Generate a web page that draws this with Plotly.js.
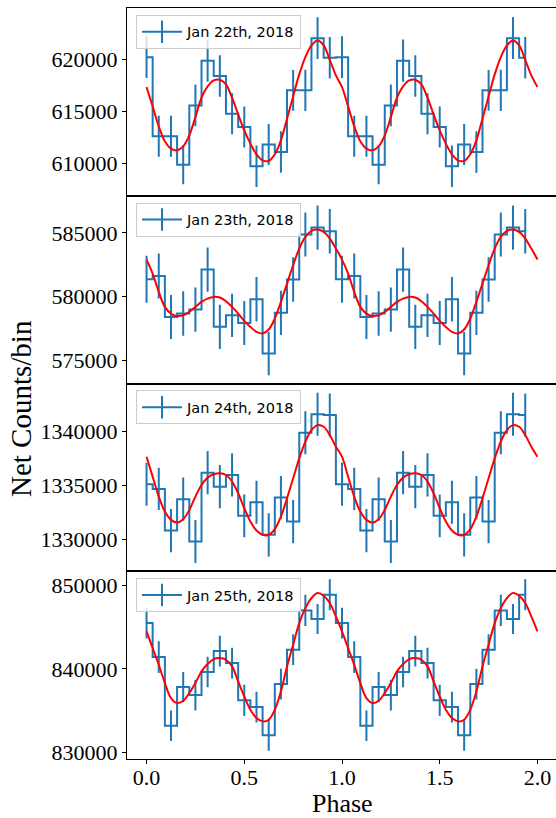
<!DOCTYPE html>
<html>
<head>
<meta charset="utf-8">
<script src="https://cdn.plot.ly/plotly-3.0.1.min.js"></script>
<style>
  html, body { margin: 0; padding: 0; overflow: hidden; background: #fff; }
  #chart { width: 558px; height: 818px; }
</style>
</head>
<body>
<div id="chart"></div>
<script>
// ---------- data ----------
// bin centres in phase (two folded cycles, 16 bins per cycle)
const binPhase = [0, 0.0625, 0.125, 0.1875, 0.25, 0.3125, 0.375, 0.4375, 0.5, 0.5625, 0.625, 0.6875, 0.75, 0.8125, 0.875, 0.9375,
                  1, 1.0625, 1.125, 1.1875, 1.25, 1.3125, 1.375, 1.4375, 1.5, 1.5625, 1.625, 1.6875, 1.75, 1.8125, 1.875, 1.9375];
// phase grid of the fitted curve
const fitPhase = [0, 0.03125, 0.0625, 0.09375, 0.125, 0.15625, 0.1875, 0.21875, 0.25, 0.28125, 0.3125, 0.34375, 0.375, 0.40625, 0.4375, 0.46875,
                  0.5, 0.53125, 0.5625, 0.59375, 0.625, 0.65625, 0.6875, 0.71875, 0.75, 0.78125, 0.8125, 0.84375, 0.875, 0.90625, 0.9375, 0.96875,
                  1, 1.03125, 1.0625, 1.09375, 1.125, 1.15625, 1.1875, 1.21875, 1.25, 1.28125, 1.3125, 1.34375, 1.375, 1.40625, 1.4375, 1.46875,
                  1.5, 1.53125, 1.5625, 1.59375, 1.625, 1.65625, 1.6875, 1.71875, 1.75, 1.78125, 1.8125, 1.84375, 1.875, 1.90625, 1.9375, 1.96875, 2];

const labels = ["Jan 22th, 2018", "Jan 23th, 2018", "Jan 24th, 2018", "Jan 25th, 2018"];

// net counts per bin, one cycle (16 bins)
const counts22 = [620190, 612610, 612610, 609900, 615570, 619850, 618380, 614780, 613500, 609740, 611820, 611110, 617010, 617010, 622010, 620130];
const counts23 = [581360, 581620, 578400, 578670, 578980, 582120, 577620, 578530, 577930, 579790, 575520, 578720, 581340, 584870, 585420, 585130];
const counts24 = [1335110, 1334680, 1330800, 1333720, 1329780, 1336190, 1334890, 1335980, 1332170, 1333440, 1330400, 1333870, 1331640, 1339910, 1341640, 1341550];
const counts25 = [845490, 841420, 833190, 837820, 836870, 839620, 842140, 840700, 836230, 835430, 832040, 838180, 842300, 847010, 845970, 848880];

// 1-sigma errors per bin
const err22 = [1990, 1960, 1960, 1880, 1990, 2020, 1990, 1960, 1960, 1990, 1960, 1990, 1950, 1980, 1990, 1990];
const err23 = [1850, 1770, 1730, 1750, 1740, 1740, 1730, 1700, 1730, 1740, 1700, 1740, 1740, 1730, 1740, 1740];
const err24 = [2010, 1970, 2010, 2010, 2010, 2010, 2010, 2010, 2000, 2010, 2010, 2010, 2010, 2010, 2000, 2010];
const err25 = [1840, 1900, 1840, 1820, 1840, 1820, 1840, 1840, 1860, 1840, 1860, 1840, 1840, 1860, 1800, 1860];

// fitted model, one cycle sampled every 1/32 in phase (33 values, first == last)
const fit22 = [617326, 615478, 613566, 612132, 611431, 611272, 611654, 612706, 614458, 616307, 617390, 617964, 618028, 617581, 616307, 614713,
               613184, 611909, 610889, 610316, 610252, 610889, 612228, 614299, 616434, 618537, 620194, 621310, 621788, 621310, 619940, 618442, 617326];
const fit23 = [582906, 581806, 580367, 579189, 578665, 578482, 578534, 578796, 579189, 579581, 579843, 579974, 579922, 579634, 579189, 578665,
               578089, 577618, 577226, 577095, 577409, 578273, 579581, 581021, 582461, 583770, 584686, 585157, 585262, 585079, 584555, 583770, 582906];
const fit24 = [1337678, 1335820, 1333963, 1332570, 1331796, 1331548, 1331858, 1332724, 1333963, 1335046, 1335728, 1336037, 1336130, 1335975, 1335356, 1334272,
               1332879, 1331641, 1330805, 1330402, 1330402, 1330929, 1332105, 1333808, 1335666, 1337523, 1339071, 1340155, 1340619, 1340464, 1339690, 1338607, 1337678];
const fit25 = [844491, 842495, 840499, 838303, 836507, 835908, 836188, 837106, 838303, 839701, 840579, 841178, 841297, 841098, 840299, 838503,
               836707, 835110, 834112, 833713, 833912, 835110, 837305, 840299, 842894, 845489, 847285, 848483, 849082, 848763, 847884, 846287, 844491];

// y tick values per panel
const yTicks = [
  [610000, 615000, 620000],
  [575000, 580000, 585000],
  [1330000, 1335000, 1340000],
  [830000, 840000, 850000]
];
const xTicks = [0, 0.5, 1.0, 1.5, 2.0];
const xTickText = ["0.0", "0.5", "1.0", "1.5", "2.0"];

// ---------- build the figure ----------
const counts = [counts22, counts23, counts24, counts25];
const errs = [err22, err23, err24, err25];
const fits = [fit22, fit23, fit24, fit25];
const yRanges = [[606922, 624895], [573171, 587919], [1327013, 1344493], [829206, 851697]];
const domains = [[0.75, 1], [0.5, 0.75], [0.25, 0.5], [0, 0.25]];
const legendTop = [0.991, 0.741, 0.491, 0.241];

const BLUE = '#1f77b4';
const traces = [];
const layout = {
  width: 558, height: 818,
  margin: {l: 127, r: 1, t: 7.5, b: 58.7},
  paper_bgcolor: '#ffffff', plot_bgcolor: '#ffffff',
  showlegend: true,
  annotations: [], shapes: []
};

for (let p = 0; p < 4; p++) {
  const n = p + 1;
  const xa = n === 1 ? 'x' : 'x' + n;
  const ya = n === 1 ? 'y' : 'y' + n;
  const legName = n === 1 ? 'legend' : 'legend' + n;
  // binned light curve (step, mid) with error bars
  traces.push({
    type: 'scatter', mode: 'lines',
    x: binPhase, y: counts[p].concat(counts[p]),
    xaxis: xa, yaxis: ya,
    line: {shape: 'hvh', color: BLUE, width: 2},
    error_y: {type: 'data', array: errs[p].concat(errs[p]), visible: true, color: BLUE, thickness: 2, width: 0},
    name: labels[p], showlegend: false, hoverinfo: 'skip'
  });
  // legend entry only (errorbar glyph: line + vertical tick)
  traces.push({
    type: 'scatter', mode: 'lines+markers',
    x: [null], y: [null], xaxis: xa, yaxis: ya,
    line: {color: BLUE, width: 2},
    marker: {symbol: 'line-ns-open', size: 16, color: BLUE, line: {color: BLUE, width: 2}},
    name: labels[p], legend: legName, showlegend: true, hoverinfo: 'skip'
  });
  // fitted model
  traces.push({
    type: 'scatter', mode: 'lines',
    x: fitPhase, y: fits[p].concat(fits[p].slice(1)),
    xaxis: xa, yaxis: ya,
    line: {shape: 'spline', smoothing: 1, color: 'red', width: 2},
    showlegend: false, hoverinfo: 'skip'
  });

  const xKey = n === 1 ? 'xaxis' : 'xaxis' + n;
  const yKey = n === 1 ? 'yaxis' : 'yaxis' + n;
  const bottom = (n === 4);
  layout[xKey] = {
    domain: [0, 1], anchor: ya, range: [-0.1, 2.1],
    showline: true, mirror: true, linecolor: '#000', linewidth: 1,
    zeroline: false, showgrid: false,
    ticks: bottom ? 'outside' : '', ticklen: 4, tickwidth: 1, tickcolor: '#000',
    tickvals: xTicks, ticktext: xTickText, showticklabels: bottom,
    ticklabelstandoff: bottom ? -5 : 0,
    tickfont: {family: 'Liberation Serif, serif', size: 22, color: '#000'}
  };
  if (n !== 4) layout[xKey].matches = 'x4';
  layout[yKey] = {
    domain: domains[p], anchor: xa, range: yRanges[p],
    showline: true, mirror: true, linecolor: '#000', linewidth: 1,
    zeroline: false, showgrid: false,
    ticks: 'outside', ticklen: 4, tickwidth: 1, tickcolor: '#000',
    tickvals: yTicks[p], ticktext: yTicks[p].map(String),
    tickfont: {family: 'Liberation Serif, serif', size: 22, color: '#000'}
  };
  layout[legName] = {
    x: 0.021, y: legendTop[p], xanchor: 'left', yanchor: 'top',
    bgcolor: 'rgba(255,255,255,0.8)', bordercolor: '#cccccc', borderwidth: 1,
    itemwidth: 40,
    font: {family: 'DejaVu Sans, sans-serif', size: 14.5, color: '#000'}
  };
}

// axis titles
layout.annotations.push({
  xref: 'paper', yref: 'paper', x: -0.2465, y: 0.466,
  text: 'Net Counts/bin', textangle: -90, showarrow: false,
  xanchor: 'center', yanchor: 'middle',
  font: {family: 'Liberation Serif, serif', size: 29, color: '#000'}
});
layout.annotations.push({
  xref: 'paper', yref: 'paper', x: 0.5, y: -0.0588,
  text: 'Phase', showarrow: false, xanchor: 'center', yanchor: 'middle',
  font: {family: 'Liberation Serif, serif', size: 26, color: '#000'}
});

Plotly.newPlot('chart', traces, layout, {displayModeBar: false, staticPlot: true});
</script>
</body>
</html>
